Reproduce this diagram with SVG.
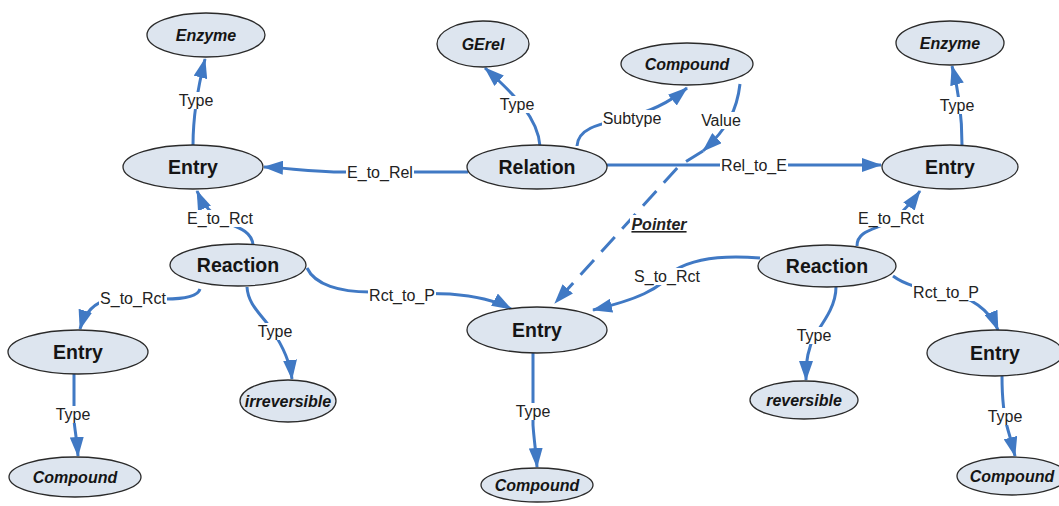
<svg xmlns="http://www.w3.org/2000/svg" width="1059" height="506" viewBox="0 0 1059 506">
  <style>
    .node ellipse { fill: #dde5ef; stroke: #2a2a2a; stroke-width: 1.3; }
    .main { font-family: "Liberation Sans", Arial, sans-serif; font-weight: bold; font-size: 19.5px; fill: #151515; text-anchor: middle; }
    .val { font-family: "Liberation Sans", Arial, sans-serif; font-weight: bold; font-style: italic; font-size: 16px; fill: #151515; text-anchor: middle; }
    .edge { fill: none; stroke: #4079c4; stroke-width: 3; marker-end: url(#ah); }
    .dash { stroke-dasharray: 20 11; }
    .lbg { fill: #ffffff; }
    .lbl { font-family: "Liberation Sans", Arial, sans-serif; font-size: 16px; fill: #222222; text-anchor: middle; }
    .ptr { font-family: "Liberation Sans", Arial, sans-serif; font-size: 16px; font-weight: bold; font-style: italic; fill: #222222; text-anchor: middle; text-decoration: underline; }
  </style>
  <defs>
    <marker id="ah" viewBox="0 0 20 14" refX="19" refY="7" markerWidth="20" markerHeight="14" markerUnits="userSpaceOnUse" orient="auto">
      <path d="M0,0 L20,7 L0,14 z" fill="#4079c4"/>
    </marker>
  </defs>
  <rect width="1059" height="506" fill="#ffffff"/>

  <!-- connectors -->
  <g id="connectors">
    <path class="edge" d="M193,145 C193,120 196,95 205,59"/>
    <path class="edge" d="M468,172 L345,172 C310,172 290,168 264,167"/>
    <path class="edge" d="M540,146 C538,118 515,95 485,68"/>
    <path class="edge" d="M577,146 C578,128 600,124 625,118 C650,112 670,102 687,88"/>
    <path class="edge" d="M740,84 C737,110 728,128 703,151"/>
    <path class="edge dash" d="M703,151 L679,166 L555,303"/>
    <path class="edge" d="M607,165 L881,165"/>
    <path class="edge" d="M962,145 C962,120 960,95 952,66"/>
    <path class="edge" d="M857,246 C857,232 872,230 885,224 C900,216 910,205 920,191"/>
    <path class="edge" d="M253,245 C252,232 240,228 225,222 C212,215 203,205 197,191"/>
    <path class="edge" d="M200,289 C198,296 185,299 165,299 L110,299 C95,302 85,312 80,329"/>
    <path class="edge" d="M247,287 C248,305 262,315 272,330 C282,345 290,360 292,379"/>
    <path class="edge" d="M307,268 C315,285 340,292 370,292 L450,294 C475,296 495,300 511,309"/>
    <path class="edge" d="M760,258 C725,255 695,258 675,270 C660,290 635,300 593,310"/>
    <path class="edge" d="M836,287 C836,305 825,320 815,335 C808,348 806,360 806,380"/>
    <path class="edge" d="M893,276 C905,285 925,290 945,292 C970,296 990,310 998,330"/>
    <path class="edge" d="M74,374 L74,420 C75,432 77,440 78,456"/>
    <path class="edge" d="M533,353 L533,425 C534,440 536,452 537,467"/>
    <path class="edge" d="M1002,376 C1002,400 1005,420 1008,430 C1011,440 1013,448 1015,456"/>
  </g>

  <!-- connector labels -->
  <g id="edge-labels">
    <rect class="lbg" x="177" y="92" width="38" height="17"/>
    <text class="lbl" x="196" y="106">Type</text>
    <rect class="lbg" x="346" y="164" width="68" height="17"/>
    <text class="lbl" x="380" y="178">E_to_Rel</text>
    <rect class="lbg" x="186" y="210" width="68" height="17"/>
    <text class="lbl" x="220" y="224">E_to_Rct</text>
    <rect class="lbg" x="498" y="96" width="38" height="17"/>
    <text class="lbl" x="517" y="110">Type</text>
    <rect class="lbg" x="602" y="110" width="61" height="17"/>
    <text class="lbl" x="632" y="124">Subtype</text>
    <rect class="lbg" x="700" y="112" width="43" height="17"/>
    <text class="lbl" x="721" y="126">Value</text>
    <rect class="lbg" x="630" y="215" width="58" height="19"/>
    <text class="ptr" x="659" y="230">Pointer</text>
    <rect class="lbg" x="720" y="157" width="68" height="17"/>
    <text class="lbl" x="754" y="171">Rel_to_E</text>
    <rect class="lbg" x="938" y="97" width="38" height="17"/>
    <text class="lbl" x="957" y="111">Type</text>
    <rect class="lbg" x="857" y="210" width="68" height="17"/>
    <text class="lbl" x="891" y="224">E_to_Rct</text>
    <rect class="lbg" x="99" y="290" width="68" height="17"/>
    <text class="lbl" x="133" y="304">S_to_Rct</text>
    <rect class="lbg" x="256" y="323" width="38" height="17"/>
    <text class="lbl" x="275" y="337">Type</text>
    <rect class="lbg" x="368" y="287" width="68" height="17"/>
    <text class="lbl" x="402" y="301">Rct_to_P</text>
    <rect class="lbg" x="633" y="268" width="68" height="17"/>
    <text class="lbl" x="667" y="282">S_to_Rct</text>
    <rect class="lbg" x="795" y="327" width="38" height="17"/>
    <text class="lbl" x="814" y="341">Type</text>
    <rect class="lbg" x="912" y="284" width="68" height="17"/>
    <text class="lbl" x="946" y="298">Rct_to_P</text>
    <rect class="lbg" x="54" y="406" width="38" height="17"/>
    <text class="lbl" x="73" y="420">Type</text>
    <rect class="lbg" x="514" y="403" width="38" height="17"/>
    <text class="lbl" x="533" y="417">Type</text>
    <rect class="lbg" x="986" y="408" width="38" height="17"/>
    <text class="lbl" x="1005" y="422">Type</text>
  </g>

  <!-- nodes -->
  <g id="enzyme-left" class="node">
    <ellipse cx="206" cy="35" rx="59" ry="22"/>
    <text class="val" x="206" y="41">Enzyme</text>
  </g>
  <g id="entry-left" class="node">
    <ellipse cx="193" cy="167" rx="70" ry="22"/>
    <text class="main" x="193" y="174">Entry</text>
  </g>
  <g id="gerel" class="node">
    <ellipse cx="483" cy="44" rx="46" ry="23"/>
    <text class="val" x="483" y="50">GErel</text>
  </g>
  <g id="compound-top" class="node">
    <ellipse cx="687" cy="64" rx="66" ry="21"/>
    <text class="val" x="687" y="70">Compound</text>
  </g>
  <g id="relation" class="node">
    <ellipse cx="537" cy="167" rx="70" ry="22"/>
    <text class="main" x="537" y="174">Relation</text>
  </g>
  <g id="entry-right" class="node">
    <ellipse cx="950" cy="167" rx="68" ry="22"/>
    <text class="main" x="950" y="174">Entry</text>
  </g>
  <g id="enzyme-right" class="node">
    <ellipse cx="950" cy="43" rx="54" ry="22"/>
    <text class="val" x="950" y="49">Enzyme</text>
  </g>
  <g id="reaction-left" class="node">
    <ellipse cx="238" cy="265" rx="68" ry="21"/>
    <text class="main" x="238" y="272">Reaction</text>
  </g>
  <g id="entry-bottom-left" class="node">
    <ellipse cx="78" cy="352" rx="70" ry="22"/>
    <text class="main" x="78" y="359">Entry</text>
  </g>
  <g id="irreversible" class="node">
    <ellipse cx="288" cy="401" rx="48" ry="21"/>
    <text class="val" x="288" y="407">irreversible</text>
  </g>
  <g id="compound-bottom-left" class="node">
    <ellipse cx="75" cy="477" rx="66" ry="20"/>
    <text class="val" x="75" y="483">Compound</text>
  </g>
  <g id="entry-center" class="node">
    <ellipse cx="537" cy="330" rx="70" ry="23"/>
    <text class="main" x="537" y="337">Entry</text>
  </g>
  <g id="compound-center" class="node">
    <ellipse cx="537" cy="485" rx="56" ry="17"/>
    <text class="val" x="537" y="491">Compound</text>
  </g>
  <g id="reaction-right" class="node">
    <ellipse cx="827" cy="266" rx="69" ry="21"/>
    <text class="main" x="827" y="273">Reaction</text>
  </g>
  <g id="reversible" class="node">
    <ellipse cx="804" cy="400" rx="54" ry="19"/>
    <text class="val" x="804" y="406">reversible</text>
  </g>
  <g id="entry-bottom-right" class="node">
    <ellipse cx="995" cy="353" rx="68" ry="23"/>
    <text class="main" x="995" y="360">Entry</text>
  </g>
  <g id="compound-bottom-right" class="node">
    <ellipse cx="1012" cy="476" rx="55" ry="19"/>
    <text class="val" x="1012" y="482">Compound</text>
  </g>
</svg>
